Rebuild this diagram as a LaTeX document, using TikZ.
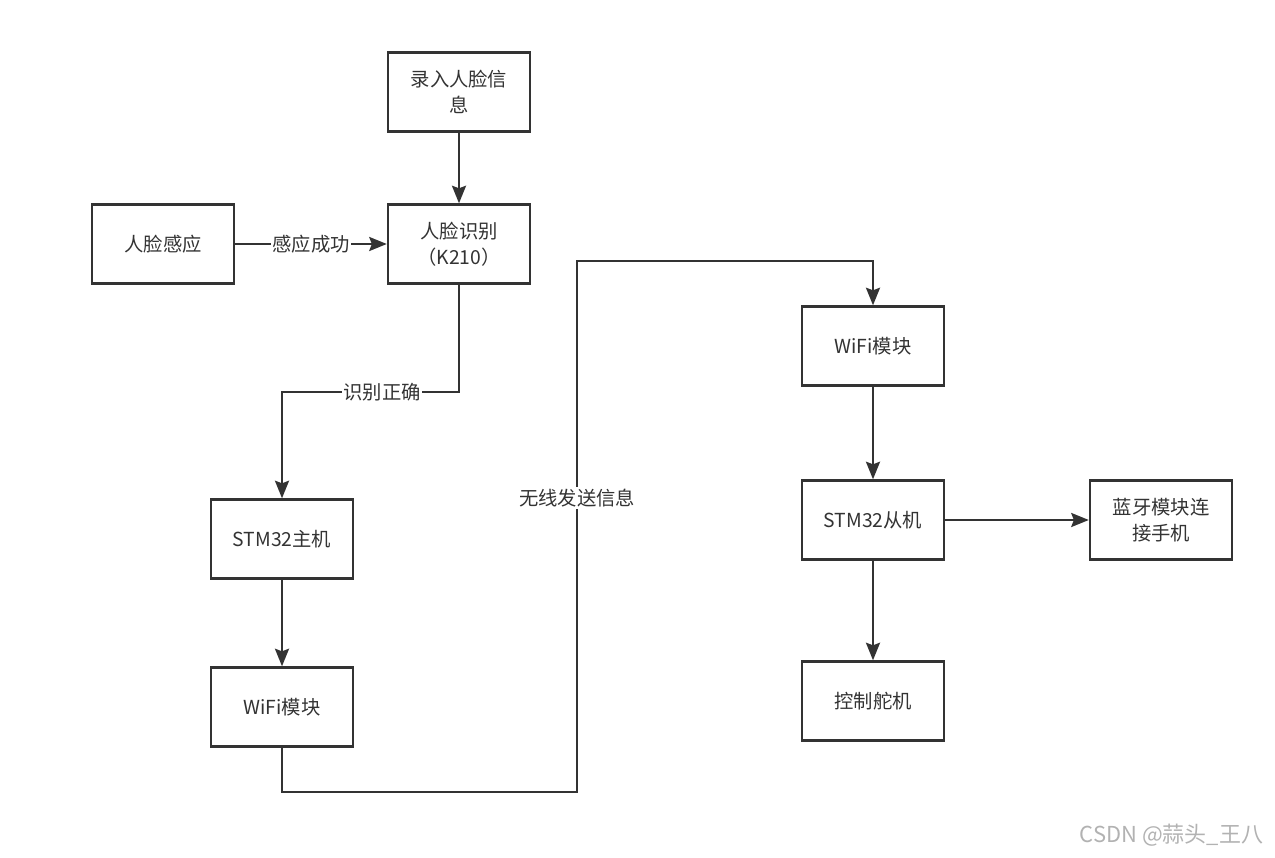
\documentclass[tikz,border=0pt]{standalone}
\usepackage{fontspec}
\newfontfamily\cjk{Noto Sans CJK SC}
\usetikzlibrary{arrows.meta,positioning}
\definecolor{linegray}{HTML}{333333}
\begin{document}
\begin{tikzpicture}[x=0.02cm,y=-0.02cm,auto,
				line width=1.3pt,draw=linegray,
				>={Stealth[length=10pt,width=8pt,inset=1.5pt]},
				box node/.style = {rectangle,draw=linegray,line width=1.4pt,text=linegray,font=\cjk\fontsize{11}{15}\selectfont,
					align=center,inner sep = 0pt, minimum width = 2.84cm, minimum height = 1.58cm},
				edge label/.style = {fill=white,text=linegray,font=\cjk\fontsize{11}{15}\selectfont,inner sep=1pt}]
				
				\useasboundingbox (0,0) rectangle (1275,858);
				
				\node[box node] at (459,92) (1) {录入人脸信\\息};
				\node[box node] at (459,244) (2) {人脸识别\\（K210）};
				\node[box node] at (163,244) (3) {人脸感应};
				\node[box node] at (282,539) (4) {STM32主机};
				\node[box node] at (282,707) (5) {WiFi模块};
				\node[box node] at (873,346) (6) {WiFi模块};
				\node[box node] at (873,520) (7) {STM32从机};
				\node[box node] at (873,701) (8) {控制舵机};
				\node[box node] at (1161,520) (9) {蓝牙模块连\\接手机};
				
				\path[->,draw=linegray]
				(1) edge node {} (2)
				(3) edge node[edge label,swap,anchor=center] {感应成功} (2)
				(4) edge node {} (5)
				(6) edge node {} (7)
				(7) edge node {} (9)
				edge node {} (8);
				
				\draw[->] (2.south) |- (370,392) -| (4.north);
				\node[edge label] at (382,392) (10) {识别正确};
				
				\draw[->] (5.south) |- (577,792) -- (577,261) -| (6.north);
				\node[edge label] at (577,498) (11) {无线发送信息};
				
				\node[text=gray!60,font=\cjk\fontsize{12.5}{15}\selectfont,anchor=east] at (1270,835) (12) {CSDN @蒜头\_王八};
				\end{tikzpicture}
\end{document}
